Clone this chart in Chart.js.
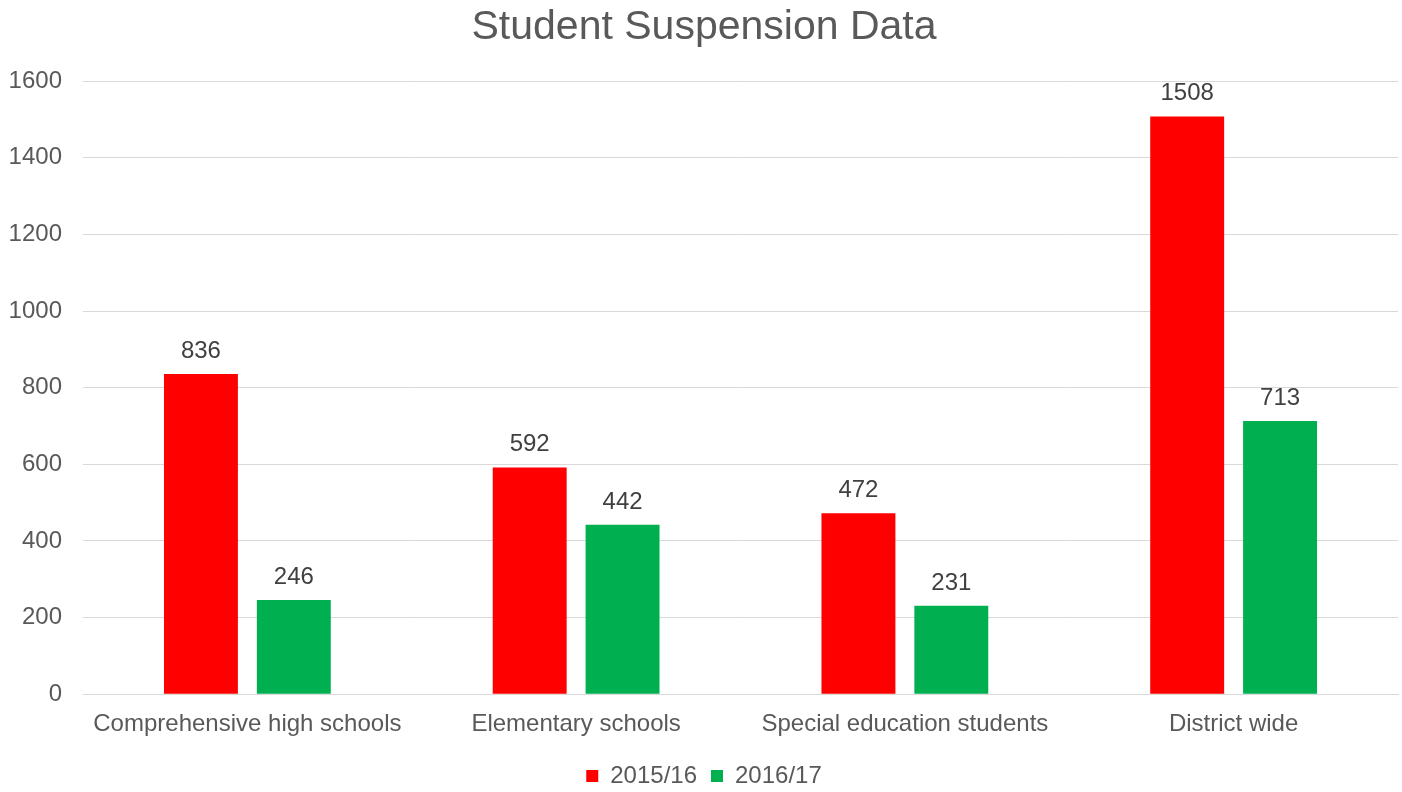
<!DOCTYPE html>
<html>
<head>
<meta charset="utf-8">
<script src="https://cdn.jsdelivr.net/npm/chart.js@4.4.1/dist/chart.umd.min.js"></script>
<style>
  html, body { margin:0; padding:0; background:#fff; }
  #wrap { width:1402px; height:792px; }
</style>
</head>
<body>
<div id="wrap"><canvas id="grafica"></canvas></div>
<script>
// datos del grafico
var categorias = ['Comprehensive high schools', 'Elementary schools', 'Special education students', 'District wide'];
var serie1516 = [836, 592, 472, 1508];
var serie1617 = [246, 442, 231, 713];
var ticksY = [0, 200, 400, 600, 800, 1000, 1200, 1400, 1600];

Chart.defaults.font.family = 'Arial, "Liberation Sans", sans-serif';
Chart.defaults.color = '#595959';

// etiquetas encima de cada barra
const etiquetasBarras = {
    id: 'etiquetasBarras',
    afterDatasetsDraw(chart) {
        const ctx = chart.ctx;
        ctx.save();
        ctx.font = '24px Arial, "Liberation Sans", sans-serif';
        ctx.fillStyle = '#404040';
        ctx.textAlign = 'center';
        ctx.textBaseline = 'alphabetic';
        chart.data.datasets.forEach(function (ds, i) {
            chart.getDatasetMeta(i).data.forEach(function (bar, j) {
                ctx.fillText(ds.data[j], bar.x, bar.y - 16);
            });
        });
        ctx.restore();
    }
};

var ctx = document.getElementById('grafica').getContext('2d');
var myChart = new Chart(ctx, {
    type: 'bar',
    data: {
        labels: categorias,
        datasets: [{
            label: '2015/16',
            data: serie1516,
            backgroundColor: '#ff0000',
            categoryPercentage: 0.565,
            barPercentage: 0.796
        }, {
            label: '2016/17',
            data: serie1617,
            backgroundColor: '#00b050',
            categoryPercentage: 0.565,
            barPercentage: 0.796
        }]
    },
    options: {
        responsive: true,
        maintainAspectRatio: false,
        animation: false,
        layout: { padding: { left: 10, right: 4, top: 0, bottom: -6 } },
        scales: {
            x: {
                grid: { display: false },
                border: { color: '#d9d9d9', width: 1 },
                ticks: { font: { size: 24 }, color: '#595959', padding: 8 },
                afterFit: function (axis) { axis.height += 3; }
            },
            y: {
                min: 0,
                max: 1600,
                afterBuildTicks: function (axis) {
                    axis.ticks = ticksY.map(function (v) { return { value: v }; });
                },
                afterFit: function (axis) { axis.width = 73; },
                grid: { color: '#d9d9d9', lineWidth: 1, drawTicks: false },
                border: { display: false },
                ticks: {
                    font: { size: 24 },
                    color: '#595959',
                    padding: 21,
                    callback: function (value) { return String(value); }
                }
            }
        },
        plugins: {
            title: {
                display: true,
                text: 'Student Suspension Data',
                font: { size: 41, weight: 'normal' },
                color: '#595959',
                padding: { top: 3, bottom: 29 }
            },
            legend: {
                position: 'bottom',
                labels: {
                    boxWidth: 12,
                    boxHeight: 12,
                    font: { size: 24 },
                    color: '#595959',
                    padding: 14
                }
            },
            tooltip: { enabled: false }
        }
    },
    plugins: [etiquetasBarras]
});
</script>
</body>
</html>
